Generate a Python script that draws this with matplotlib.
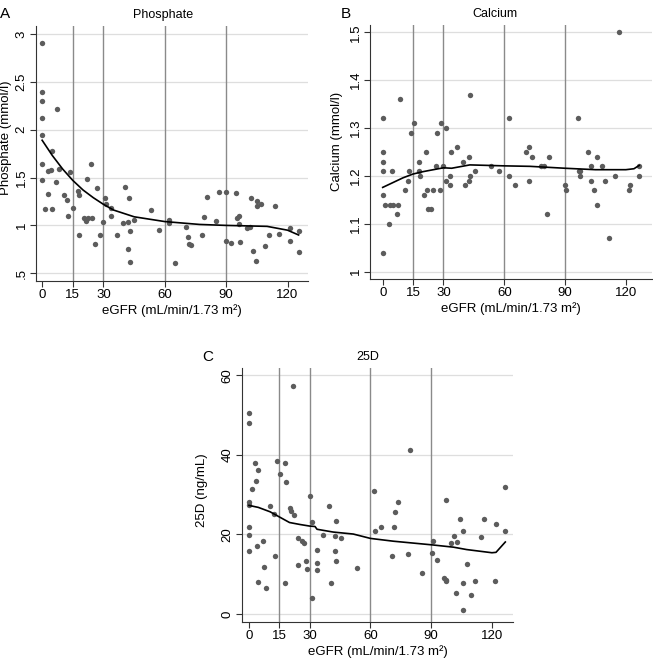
import numpy as np
import matplotlib.pyplot as plt

plt.rcParams['font.family'] = ['Liberation Sans', 'DejaVu Sans']

W, H = 653, 659

# ---------------- data ----------------
# A: phosphate
phos_egfr = [0, 0, 0, 0, 0, 7.5, 0, 0, 4.6, 8.3, 3.0, 4.3, 6.9, 13.8, 1.3, 4.6,
             3.1, 10.8, 12.4, 12.8, 15.2, 17.7, 18.0, 17.8, 21.8, 23.9, 26.8,
             20.5, 21.4, 22.6, 24.4, 25.9, 28.3, 29.8, 30.8, 31.3, 33.7, 33.7,
             36.5, 39.5, 40.6, 42.4, 42.2, 42.9, 41.9, 42.9, 45.0, 53.0, 57.1,
             61.9, 61.9, 64.8, 70.4, 71.2, 72.0, 73.0, 78.1, 79.2, 80.5, 85.0,
             86.4, 90.0, 89.7, 92.3, 94.6, 95.4, 96.4, 96.4, 96.6, 100.4, 101.8,
             102.0, 103.3, 104.9, 105.3, 107.1, 104.8, 109.0, 110.8, 114.0,
             115.7, 121.0, 121.3, 125.7, 125.7]
phos_val = [2.91, 2.39, 2.30, 2.12, 1.94, 2.22, 1.64, 1.47, 1.78, 1.59, 1.57, 1.58,
            1.45, 1.56, 1.17, 1.17, 1.33, 1.32, 1.27, 1.10, 1.18, 1.36, 1.32, 0.90,
            1.48, 1.64, 1.39, 1.08, 1.05, 1.08, 1.08, 0.81, 0.90, 1.04, 1.29, 1.22,
            1.18, 1.10, 0.90, 1.03, 1.40, 1.29, 1.04, 0.94, 0.75, 0.62, 1.06, 1.16,
            0.95, 1.06, 1.03, 0.61, 0.98, 0.88, 0.81, 0.80, 0.90, 1.09, 1.30, 1.05,
            1.35, 1.35, 0.84, 0.82, 1.34, 1.08, 1.10, 1.01, 0.83, 0.97, 0.98, 1.29,
            0.73, 1.25, 1.20, 1.22, 0.63, 0.78, 0.90, 1.20, 0.91, 0.97, 0.84, 0.94,
            0.72]
phos_fit_egfr = [0, 5, 10, 15, 20, 25, 30, 35, 45, 60, 77, 90, 110, 120, 125.4]
phos_fit_val = [1.89, 1.73, 1.59, 1.47, 1.37, 1.29, 1.22, 1.16, 1.09, 1.04, 1.01,
                1.00, 0.99, 0.95, 0.90]

# B: calcium
ca_egfr = [0, 0, 0, 0, 0, 0, 1.3, 3.8, 5.0, 7.6, 3.0, 4.6, 6.9, 8.4, 10.9, 12.5,
           13.0, 14.0, 15.5, 17.8, 17.8, 18.4, 20.5, 21.4, 21.9, 22.4, 24.0, 24.7,
           26.3, 27.0, 28.4, 28.8, 30.0, 31.0, 31.0, 33.3, 33.3, 33.8, 36.8, 39.8,
           40.8, 42.4, 42.6, 43.2, 43.2, 45.4, 53.3, 57.5, 62.3, 62.3, 65.4, 70.9,
           72.0, 72.3, 73.5, 78.3, 79.7, 81.2, 82.2, 90.0, 90.6, 96.5, 96.7, 97.3,
           97.3, 101.1, 102.6, 102.6, 104.1, 105.9, 105.9, 108.0, 109.5, 111.5,
           114.7, 116.4, 121.6, 122.1, 126.6, 126.6]
ca_val = [1.32, 1.25, 1.23, 1.21, 1.16, 1.04, 1.14, 1.14, 1.14, 1.14, 1.10, 1.21,
          1.12, 1.36, 1.17, 1.19, 1.21, 1.29, 1.31, 1.23, 1.21, 1.20, 1.16, 1.25,
          1.17, 1.13, 1.13, 1.17, 1.22, 1.29, 1.17, 1.31, 1.22, 1.30, 1.19, 1.20,
          1.18, 1.25, 1.26, 1.23, 1.18, 1.24, 1.19, 1.20, 1.37, 1.21, 1.22, 1.21,
          1.32, 1.20, 1.18, 1.25, 1.19, 1.26, 1.24, 1.22, 1.22, 1.12, 1.24, 1.18,
          1.17, 1.32, 1.21, 1.21, 1.20, 1.25, 1.22, 1.19, 1.17, 1.24, 1.14, 1.22,
          1.19, 1.07, 1.20, 1.50, 1.17, 1.18, 1.22, 1.20]
ca_fit_egfr = [0, 5, 10, 15, 20, 25, 30, 34, 43, 60, 72.7, 90, 105, 120, 124, 126.6]
ca_fit_val = [1.176, 1.186, 1.196, 1.204, 1.209, 1.213, 1.217, 1.216, 1.223, 1.221,
              1.220, 1.216, 1.213, 1.213, 1.215, 1.222]

# C: 25D
d_egfr = [0, 0, 0, 0, 0, 0, 0, 1.3, 3.0, 3.3, 3.9, 4.6, 4.6, 6.7, 7.4, 8.2, 10.5,
          12.2, 12.8, 13.8, 15.3, 17.6, 18.1, 17.8, 20.2, 20.9, 22.2, 21.7, 24.2,
          24.4, 26.2, 27.0, 28.1, 28.5, 30.0, 31.0, 31.1, 33.6, 33.6, 33.6, 36.7,
          39.3, 40.7, 42.3, 42.3, 43.1, 43.1, 45.4, 53.2, 61.7, 62.4, 65.2, 70.6,
          71.8, 72.3, 73.4, 78.7, 79.7, 85.3, 90.2, 90.7, 93.0, 96.3, 97.1, 97.4,
          97.3, 99.6, 101.2, 102.2, 102.6, 104.2, 105.5, 105.8, 105.8, 107.8,
          109.8, 111.5, 114.6, 116.2, 121.8, 121.6, 126.3, 126.6]
d_val = [50.6, 48.1, 28.2, 27.4, 21.8, 19.8, 15.8, 31.5, 38.0, 33.4, 17.0, 36.2,
         8.0, 18.4, 11.8, 6.5, 27.2, 25.2, 14.5, 38.4, 35.3, 37.9, 33.2, 7.7, 26.6,
         26.0, 25.0, 57.4, 12.2, 19.2, 18.3, 17.9, 13.4, 11.3, 29.7, 23.1, 4.0,
         16.2, 12.7, 11.0, 19.8, 27.2, 7.8, 19.5, 15.8, 23.3, 13.4, 19.2, 11.5,
         30.9, 20.8, 21.8, 14.6, 21.8, 25.7, 28.2, 15.0, 41.3, 10.3, 15.4, 18.4,
         13.5, 9.1, 8.6, 8.4, 28.6, 17.9, 19.6, 5.2, 18.0, 24.0, 7.8, 1.1, 20.8,
         12.5, 4.7, 8.4, 19.4, 23.9, 22.5, 8.4, 32.0, 20.8]
d_fit_egfr = [0, 4.6, 10.4, 15, 20, 25.2, 30, 32.6, 33.6, 41.6, 51.5, 60, 71.3, 90,
              101, 107.5, 120, 122, 126.6]
d_fit_val = [27.3, 26.8, 25.7, 24.4, 23.0, 22.5, 22.1, 22.0, 21.3, 20.6, 20.1, 19.0,
             18.3, 17.4, 16.8, 16.2, 15.4, 15.5, 18.1]

x_ticks = [0, 15, 30, 60, 90, 120]
x_lines = [15, 30, 60, 90]
xlabel = 'eGFR (mL/min/1.73 m²)'


def rect(left, top, right, bottom):
    return [left / W, 1 - bottom / H, (right - left) / W, (bottom - top) / H]


def panel(fig, box, xlim, ylim, yticks, ylabels, x, y, fx, fy,
          title, title_x, ylabel, ylabel_xy, letter, letter_xy):
    ax = fig.add_axes(rect(*box))
    ax.set_xlim(*xlim)
    ax.set_ylim(*ylim)
    for yt in yticks:
        ax.axhline(yt, color='#dedede', lw=0.9, zorder=0)
    for xv in x_lines:
        ax.axvline(xv, color='#8a8a8a', lw=1.0, zorder=1)
    ax.scatter(x, y, s=15, color='#5c5c5c', linewidths=0, zorder=3)
    ax.plot(fx, fy, color='black', lw=1.2, zorder=4)

    ax.set_xticks(x_ticks)
    ax.set_yticks(yticks)
    ax.set_yticklabels(ylabels, rotation=90, va='center')
    ax.tick_params(direction='out', length=4, width=0.8, labelsize=9.5,
                   color='#333333', pad=2)
    for s in ['top', 'right']:
        ax.spines[s].set_visible(False)
    for s in ['left', 'bottom']:
        ax.spines[s].set_color('#333333')
        ax.spines[s].set_linewidth(0.8)

    ax.set_xlabel(xlabel, fontsize=9.5, labelpad=2)
    ax.set_ylabel(ylabel, fontsize=9.5)
    ax.yaxis.set_label_coords(*ylabel_xy)

    top = box[1]
    fig.text(title_x / W, 1 - (top - 11) / H, title, fontsize=9,
             ha='center', va='center')
    fig.text(letter_xy[0] / W, 1 - letter_xy[1] / H, letter, fontsize=11,
             ha='center', va='center')
    return ax


fig = plt.figure(figsize=(W / 100, H / 100), dpi=100)

panel(fig, (36, 26, 308, 281), (-3, 130), (0.419, 3.084),
      [0.5, 1, 1.5, 2, 2.5, 3], ['.5', '1', '1.5', '2', '2.5', '3'],
      phos_egfr, phos_val, phos_fit_egfr, phos_fit_val,
      'Phosphate', 163, 'Phosphate (mmol/l)', (-0.09, 0.56), 'A', (5, 14))

panel(fig, (370, 25, 652, 279), (-6.27, 132.9), (0.9847, 1.5152),
      [1, 1.1, 1.2, 1.3, 1.4, 1.5], ['1', '1.1', '1.2', '1.3', '1.4', '1.5'],
      ca_egfr, ca_val, ca_fit_egfr, ca_fit_val,
      'Calcium', 495, 'Calcium (mmol/l)', (-0.096, 0.54), 'B', (346, 14))

panel(fig, (242, 368, 513, 622), (-3.46, 130.4), (-2.01, 61.84),
      [0, 20, 40, 60], ['0', '20', '40', '60'],
      d_egfr, d_val, d_fit_egfr, d_fit_val,
      '25D', 368, '25D (ng/mL)', (-0.125, 0.52), 'C', (208, 357))

fig.savefig('out.png', dpi=100)
